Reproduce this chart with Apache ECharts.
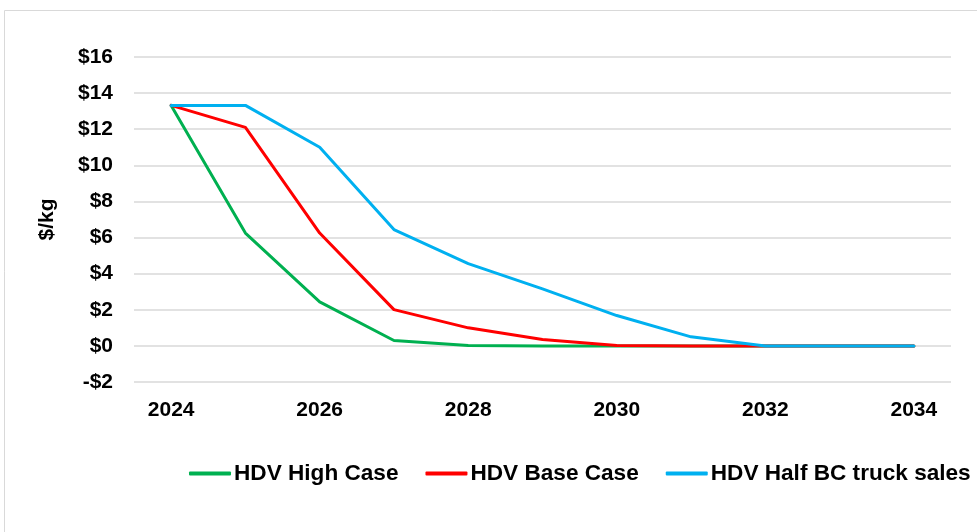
<!DOCTYPE html>
<html>
<head>
<meta charset="utf-8">
<script src="https://cdn.jsdelivr.net/npm/echarts@6/dist/echarts.min.js"></script>
<style>
  html, body { margin: 0; padding: 0; background: #fff; }
  #chart { width: 977px; height: 532px; }
</style>
</head>
<body>
<div id="chart"></div>
<script>
// years on the x axis
var years = ['2024', '2025', '2026', '2027', '2028', '2029', '2030', '2031', '2032', '2033', '2034'];

// $/kg values
var highCase = [13.32, 6.25, 2.44, 0.3, 0.02, 0, 0, 0, 0, 0, 0];
var baseCase = [13.32, 12.1, 6.25, 2.01, 1.0, 0.35, 0.02, 0, 0, 0, 0];
var halfBC = [13.32, 13.32, 11.0, 6.44, 4.56, 3.16, 1.68, 0.5, 0, 0, 0];

var seriesNames = ['HDV High Case', 'HDV Base Case', 'HDV Half BC truck sales'];
var colors = ['#00b050', '#ff0000', '#00b0f0'];

var font = 'Liberation Sans, Arial, sans-serif';

var chart = echarts.init(document.getElementById('chart'));

function lineSeries(name, data, color) {
    return {
        name: name,
        type: 'line',
        data: data,
        symbol: 'none',
        color: color,
        lineStyle: { width: 3, color: color, cap: 'round', join: 'round' },
        emphasis: { disabled: true }
    };
}

var option = {
    animation: false,
    // thin frame round the chart area
    graphic: [{
        type: 'rect',
        shape: { x: 4.5, y: 10.5, width: 980, height: 530 },
        style: { fill: 'none', stroke: '#d9d9d9', lineWidth: 1 },
        silent: true
    }],
    grid: { left: 134, right: 26, top: 57, bottom: 150 },
    legend: {
        bottom: 42,
        left: 184,
        itemWidth: 42,
        itemHeight: 4,
        itemGap: 27,
        icon: 'roundRect',
        textStyle: { fontFamily: font, fontSize: 22.6, fontWeight: 'bold', color: '#000', padding: [0, 0, 0, -2] },
        data: seriesNames
    },
    xAxis: {
        type: 'category',
        data: years,
        boundaryGap: true,
        axisLine: { show: false },
        axisTick: { show: false },
        axisLabel: {
            interval: 1,
            margin: 18,
            fontFamily: font, fontSize: 21, fontWeight: 'bold', color: '#000'
        },
        splitLine: { show: false }
    },
    yAxis: {
        type: 'value',
        min: -2,
        max: 16,
        interval: 2,
        name: '$/kg',
        nameLocation: 'middle',
        nameGap: 76,
        nameRotate: 90,
        nameTextStyle: { fontFamily: font, fontSize: 21, fontWeight: 'bold', color: '#000' },
        axisLine: { show: false },
        axisTick: { show: false },
        axisLabel: {
            margin: 21,
            fontFamily: font, fontSize: 21, fontWeight: 'bold', color: '#000',
            formatter: function (v) { return (v < 0 ? '-$' : '$') + Math.abs(v); }
        },
        splitLine: { lineStyle: { color: '#d9d9d9', width: 1.5 } }
    },
    series: [
        lineSeries(seriesNames[0], highCase, colors[0]),
        lineSeries(seriesNames[1], baseCase, colors[1]),
        lineSeries(seriesNames[2], halfBC, colors[2])
    ]
};

chart.setOption(option);
</script>
</body>
</html>
